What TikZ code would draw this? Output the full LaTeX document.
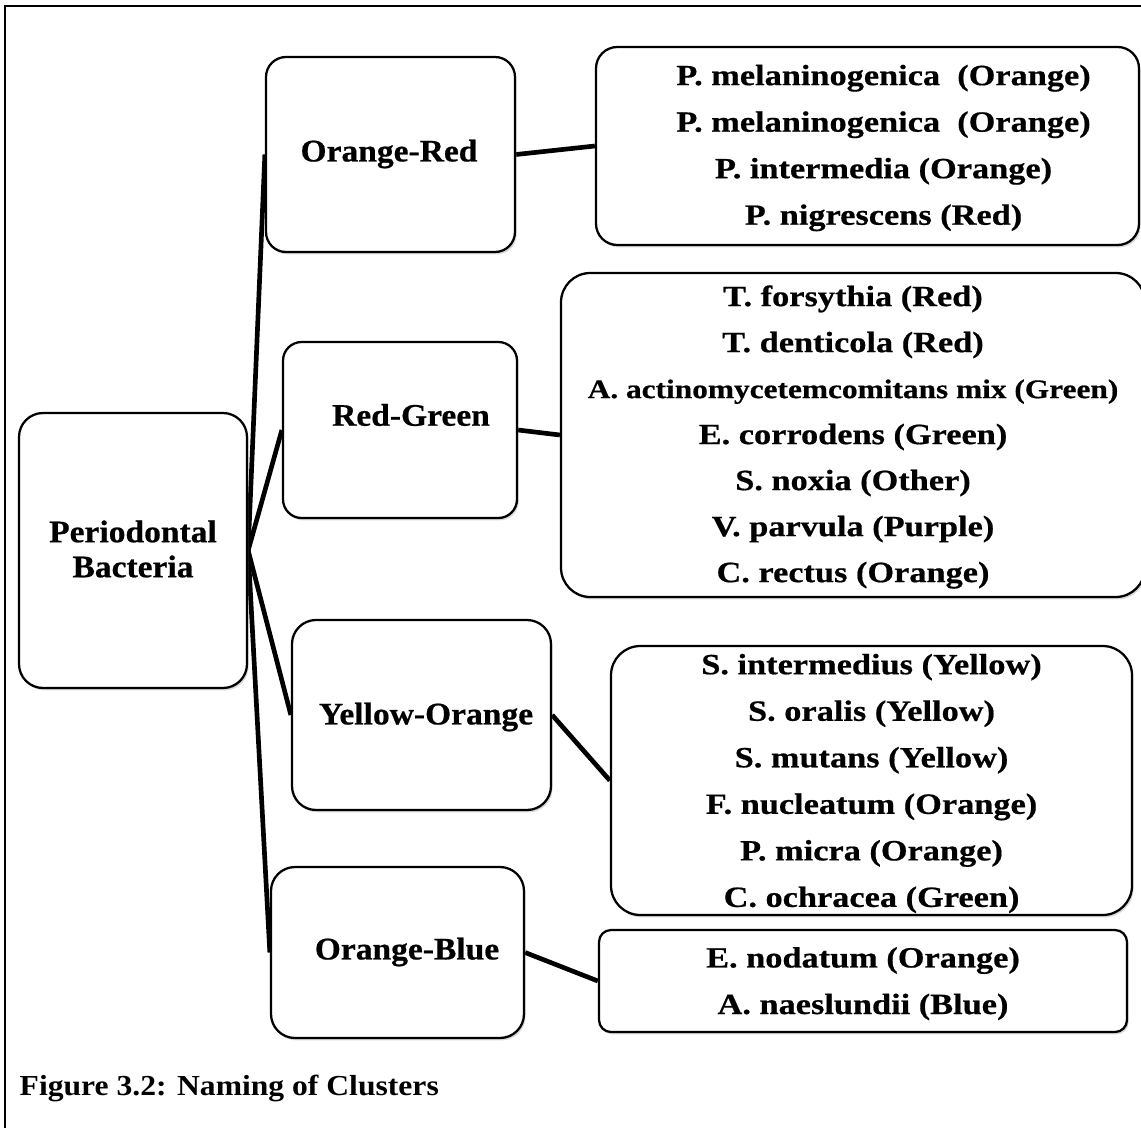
\documentclass[tikz,border=0pt]{standalone}
\usepackage{fontspec}
\setmainfont{Liberation Serif}
\newfontfamily\labelfont[FakeStretch=1.07, FakeBold=0.6]{Liberation Serif}
\newfontfamily\listfont[FakeStretch=1.17, FakeBold=0.6]{Liberation Serif}
\newfontfamily\capfont[FakeStretch=1.09]{Liberation Serif}
\usetikzlibrary{positioning,fit,shadows,backgrounds}

\tikzset{
  clusterbox/.style={draw, line width=1.7pt, fill=white, inner sep=0pt,
    drop shadow={shadow xshift=1.2pt, shadow yshift=-1.8pt, opacity=0.3}},
  listtext/.style={font={\listfont\bfseries\fontsize{22}{34.9}\selectfont}, align=center},
  boxlabel/.style={font={\labelfont\bfseries\fontsize{23.5}{26.25}\selectfont}, align=center},
  link/.style={line width=3.5pt},
}

\begin{document}
\begin{tikzpicture}[x=0.75pt, y=-0.75pt]
	\useasboundingbox (0,0) rectangle (1141,1127);
	% outer frame (right and bottom sides fall outside the page)
	\draw[line width=1.5pt] (1160,6) -- (5,6) -- (5,1150);

	% root
	\node[clusterbox, rounded corners=18pt, fit={(19,413) (247,688)}] (pb) {};
	\node[boxlabel] (pbtext) at (133,549) {Periodontal\\Bacteria};

	% cluster pairs
	\node[clusterbox, rounded corners=15pt, fit={(266,57) (515,252)}] (or) {};
	\node[boxlabel] (ortext) at (389,154) {Orange-Red};
	\node[clusterbox, rounded corners=14pt, fit={(283,342) (517,518)}] (rg) {};
	\node[boxlabel] (rgtext) at (411,415) {Red-Green};
	\node[clusterbox, rounded corners=18pt, fit={(292,620) (551,810)}] (yo) {};
	\node[boxlabel] (yotext) at (426,717) {Yellow-Orange};
	\node[clusterbox, rounded corners=18pt, fit={(271,867) (524,1038)}] (ob) {};
	\node[boxlabel] (obtext) at (407,952) {Orange-Blue};

	% species of each cluster
	\node[clusterbox, rounded corners=16pt, fit={(596,47) (1139,245)}] (p) {};
	\node[listtext] (plist) at ([xshift=12pt, yshift=-1.5pt]p.center) {P. melaninogenica\ \ (Orange)\\P. melaninogenica\ \ (Orange)\\P. intermedia (Orange)\\P. nigrescens (Red)};
	\node[clusterbox, rounded corners=22pt, fit={(561,273) (1145,597)}] (t) {};
	\node[listtext, font={\listfont\bfseries\fontsize{22}{34.5}\selectfont}] (tlist) at ([yshift=-1.5pt]t.center) {T. forsythia (Red)\\T. denticola (Red)\\{\fontsize{20.1}{20}\selectfont A. actinomycetemcomitans mix (Green)}\\E. corrodens (Green)\\S. noxia (Other)\\V. parvula (Purple)\\C. rectus (Orange)};
	\node[clusterbox, rounded corners=22pt, fit={(611,646) (1132,915)}] (s) {};
	\node[listtext] (slist) at ([yshift=-2.25pt]s.center) {S. intermedius (Yellow)\\S. oralis (Yellow)\\S. mutans (Yellow)\\F. nucleatum (Orange)\\P. micra (Orange)\\C. ochracea (Green)};
	\node[clusterbox, rounded corners=9pt, fit={(599,930) (1127,1032)}] (e) {};
	\node[listtext] (elist) at ([yshift=-2pt]e.center) {E. nodatum (Orange)\\A. naeslundii (Blue)};

	% connectors
	\begin{scope}[on background layer]
		\draw[link] (pb.east) -- (or.west);
		\draw[link] (pb.east) -- (rg.west);
		\draw[link] (pb.east) -- (yo.west);
		\draw[link] (pb.east) -- (ob.west);
		\draw[link] (or.east) -- (p.west);
		\draw[link] (rg.east) -- (t.west);
		\draw[link] (yo.east) -- (s.west);
		\draw[link] (ob.east) -- (e.west);
	\end{scope}

	% caption
	\node[anchor=base west, font={\capfont\bfseries\fontsize{21.75}{26}\selectfont}] (caption) at (15,1095) {Figure 3.2: Naming of Clusters};
\end{tikzpicture}
\end{document}
